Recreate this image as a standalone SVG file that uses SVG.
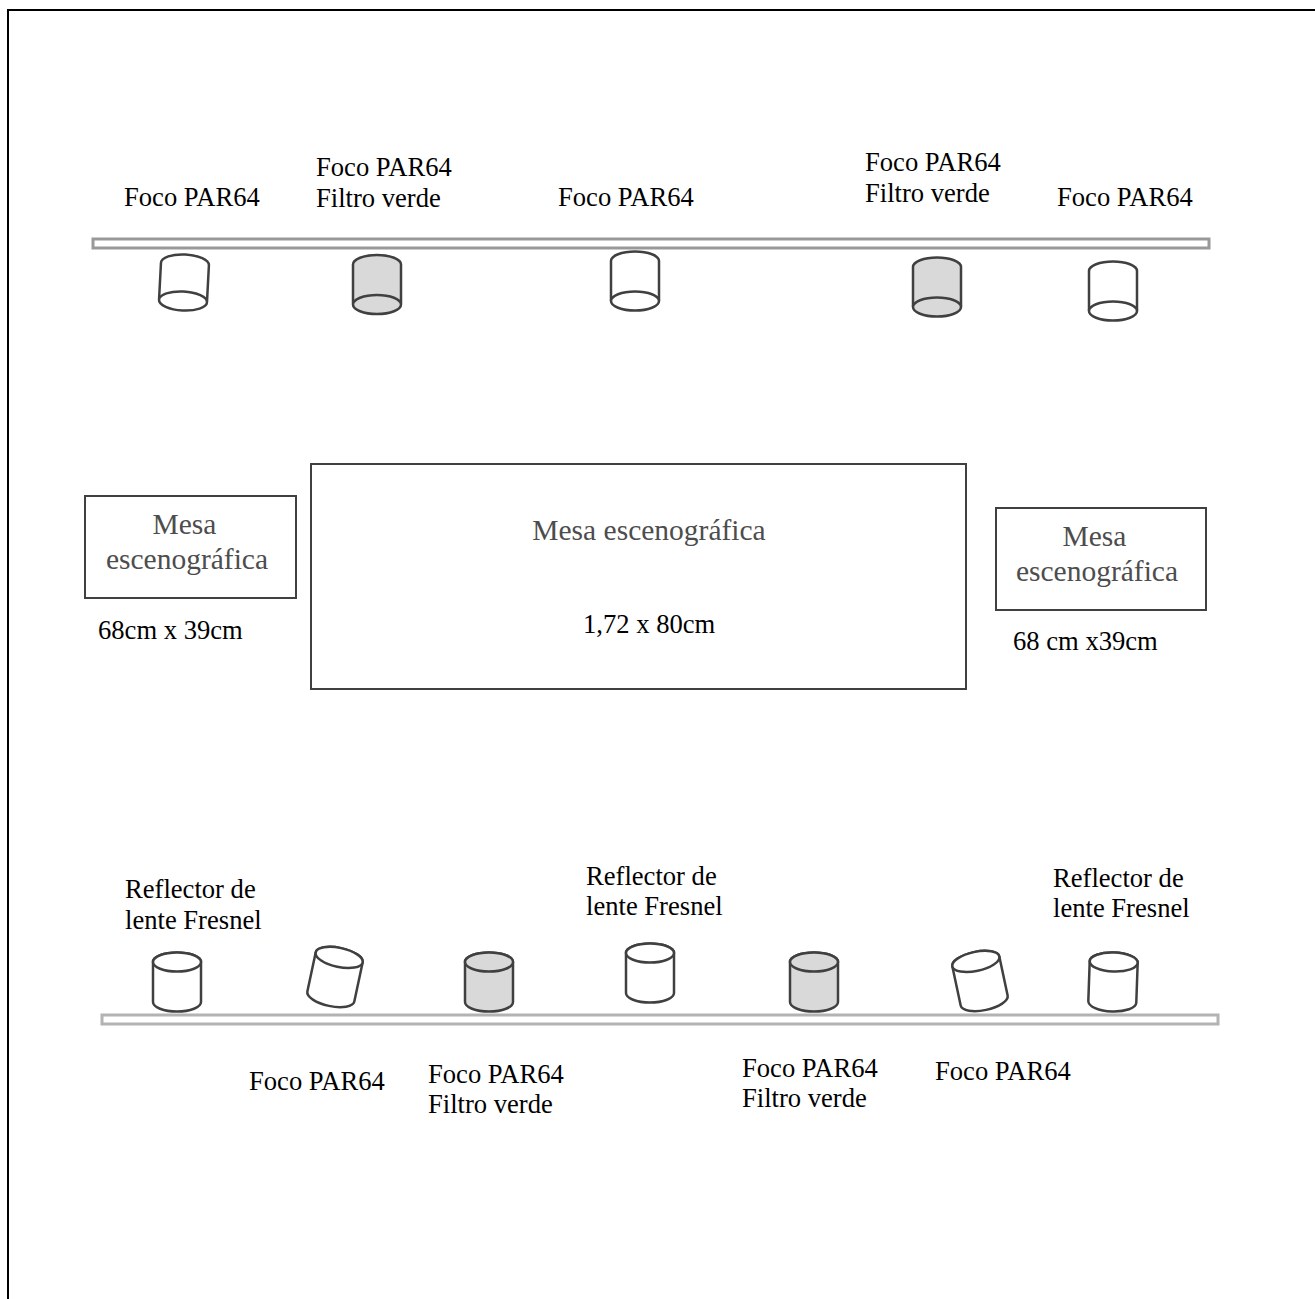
<svg xmlns="http://www.w3.org/2000/svg" width="1315" height="1299" viewBox="0 0 1315 1299">
<style>
text{font-family:"Liberation Serif","Times New Roman",serif;font-size:26.600px;fill:#000}
.g{fill:#4d4d4d;font-size:29.500px}
.c{fill:#fff;stroke:#404040;stroke-width:2.500}
.f{fill:#d9d9d9}
.t{fill:#fff;stroke:#404040;stroke-width:2}
.bar{fill:#fff;stroke:#999;stroke-width:3}
.bar2{fill:#fff;stroke:#b3b3b3;stroke-width:3}
</style>
<rect width="1315" height="1299" fill="#fff"/>
<path d="M8 1299V10H1315" fill="none" stroke="#000" stroke-width="2"/>
<g id="truss-top"><rect class="bar" x="93" y="239" width="1116" height="9"/></g>
<g id="truss-bottom"><rect class="bar2" x="102" y="1015" width="1116" height="9"/></g>
<g id="par1" transform="translate(184 282) rotate(3)"><path class="c" d="M-24 -18A24 9.500 0 0 1 24 -18V18A24 9.500 0 0 1 -24 18Z"/><ellipse class="c" cx="0" cy="19" rx="24" ry="9.500"/></g>
<g id="par2" transform="translate(377 284.500)"><path class="c f" d="M-24 -20A24 9.500 0 0 1 24 -20V19A24 9.500 0 0 1 -24 19Z"/><ellipse class="c f" cx="0" cy="20" rx="24" ry="9.500"/></g>
<g id="par3" transform="translate(635 281)"><path class="c" d="M-24 -20A24 9.500 0 0 1 24 -20V19A24 9.500 0 0 1 -24 19Z"/><ellipse class="c" cx="0" cy="20" rx="24" ry="9.500"/></g>
<g id="par4" transform="translate(937 287)"><path class="c f" d="M-24 -20A24 9.500 0 0 1 24 -20V19A24 9.500 0 0 1 -24 19Z"/><ellipse class="c f" cx="0" cy="20" rx="24" ry="9.500"/></g>
<g id="par5" transform="translate(1113 291)"><path class="c" d="M-24 -20A24 9.500 0 0 1 24 -20V19A24 9.500 0 0 1 -24 19Z"/><ellipse class="c" cx="0" cy="20" rx="24" ry="9.500"/></g>
<g id="label-top">
<text x="124" y="206">Foco PAR64</text>
<text x="316" y="176">Foco PAR64</text><text x="316" y="207">Filtro verde</text>
<text x="558" y="206">Foco PAR64</text>
<text x="865" y="171">Foco PAR64</text><text x="865" y="202">Filtro verde</text>
<text x="1057" y="206">Foco PAR64</text>
</g>
<g id="mesa-left"><rect class="t" x="85" y="496" width="211" height="102"/>
<text class="g" x="184.500" y="534" text-anchor="middle">Mesa</text><text class="g" x="187" y="569" text-anchor="middle">escenográfica</text></g>
<text x="98" y="639">68cm x 39cm</text>
<g id="mesa-center"><rect class="t" x="311" y="464" width="655" height="225"/>
<text class="g" x="649" y="540" text-anchor="middle">Mesa escenográfica</text><text x="583" y="633">1,72 x 80cm</text></g>
<g id="mesa-right"><rect class="t" x="996" y="508" width="210" height="102"/>
<text class="g" x="1094.500" y="546" text-anchor="middle">Mesa</text><text class="g" x="1097" y="581" text-anchor="middle">escenográfica</text></g>
<text x="1013" y="650">68 cm x39cm</text>
<g id="fr1" transform="translate(177 982)"><path class="c" d="M-24 -20A24 9.500 0 0 1 24 -20V20A24 9.500 0 0 1 -24 20Z"/><ellipse class="c" cx="0" cy="-20" rx="24" ry="9.500"/></g>
<g id="p6" transform="translate(335 977) rotate(12)"><path class="c" d="M-24 -20A24 9.500 0 0 1 24 -20V20A24 9.500 0 0 1 -24 20Z"/><ellipse class="c" cx="0" cy="-20" rx="24" ry="9.500"/></g>
<g id="p7" transform="translate(489 982)"><path class="c f" d="M-24 -20A24 9.500 0 0 1 24 -20V20A24 9.500 0 0 1 -24 20Z"/><ellipse class="c f" cx="0" cy="-20" rx="24" ry="9.500"/></g>
<g id="fr2" transform="translate(650 973)"><path class="c" d="M-24 -20A24 9.500 0 0 1 24 -20V20A24 9.500 0 0 1 -24 20Z"/><ellipse class="c" cx="0" cy="-20" rx="24" ry="9.500"/></g>
<g id="p8" transform="translate(814 982)"><path class="c f" d="M-24 -20A24 9.500 0 0 1 24 -20V20A24 9.500 0 0 1 -24 20Z"/><ellipse class="c f" cx="0" cy="-20" rx="24" ry="9.500"/></g>
<g id="p9" transform="translate(980 981) rotate(-12)"><path class="c" d="M-24 -20A24 9.500 0 0 1 24 -20V20A24 9.500 0 0 1 -24 20Z"/><ellipse class="c" cx="0" cy="-20" rx="24" ry="9.500"/></g>
<g id="fr3" transform="translate(1113 982) rotate(2)"><path class="c" d="M-24 -20A24 9.500 0 0 1 24 -20V20A24 9.500 0 0 1 -24 20Z"/><ellipse class="c" cx="0" cy="-20" rx="24" ry="9.500"/></g>
<g id="label-bottom">
<text x="125" y="898">Reflector de</text><text x="125" y="929">lente Fresnel</text>
<text x="586" y="885">Reflector de</text><text x="586" y="915">lente Fresnel</text>
<text x="1053" y="887">Reflector de</text><text x="1053" y="917">lente Fresnel</text>
<text x="249" y="1090">Foco PAR64</text>
<text x="428" y="1083">Foco PAR64</text><text x="428" y="1113">Filtro verde</text>
<text x="742" y="1077">Foco PAR64</text><text x="742" y="1107">Filtro verde</text>
<text x="935" y="1080">Foco PAR64</text>
</g>
</svg>
